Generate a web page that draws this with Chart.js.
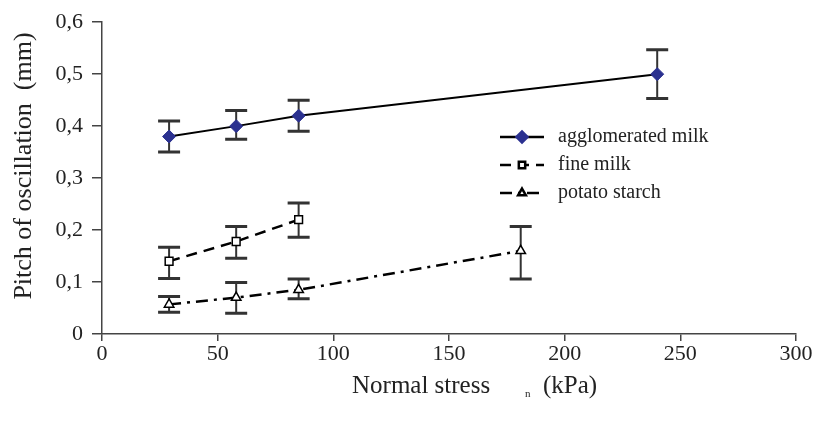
<!DOCTYPE html>
<html>
<head>
<meta charset="utf-8">
<script src="https://cdn.jsdelivr.net/npm/chart.js@4"></script>
<style>
  html, body { margin:0; padding:0; background:#fff; }
  #wrap { width:822px; height:421px; }
</style>
</head>
<body>
<div id="wrap"><canvas id="c" width="822" height="421"></canvas></div>
<script>
// values
const seriesNames = ['agglomerated milk', 'fine milk', 'potato starch']

const aggX  = [29, 58, 85, 240]
const aggY  = [0.38, 0.40, 0.42, 0.50]
const aggHi = [0.41, 0.43, 0.45, 0.547]
const aggLo = [0.35, 0.375, 0.39, 0.453]

const fineX  = [29, 58, 85]
const fineY  = [0.14, 0.178, 0.22]
const fineHi = [0.167, 0.207, 0.252]
const fineLo = [0.107, 0.146, 0.186]

const potX  = [29, 58, 85, 181]
const potY  = [0.057, 0.07, 0.085, 0.16]
const potHi = [0.072, 0.099, 0.106, 0.207]
const potLo = [0.042, 0.04, 0.068, 0.106]

const xTicks = [0, 50, 100, 150, 200, 250, 300]
const yTicks = [0, 0.1, 0.2, 0.3, 0.4, 0.5, 0.6]

const FONT = 'Liberation Serif'
const pts = (xs, ys) => xs.map((x, i) => ({ x: x, y: ys[i] }))

// error bars under the markers, then legend and axis titles on top
const errorBars = {
    id: 'errorBars',
    beforeDatasetsDraw(chart) {
        const ctx = chart.ctx
        const xs = chart.scales.x, ys = chart.scales.y
        ctx.save()
        ctx.strokeStyle = '#333'
        chart.data.datasets.forEach(ds => {
            ds.data.forEach((p, i) => {
                const px = xs.getPixelForValue(p.x)
                const top = ys.getPixelForValue(ds.errHi[i])
                const bot = ys.getPixelForValue(ds.errLo[i])
                ctx.lineWidth = 2
                ctx.beginPath()
                ctx.moveTo(px, top); ctx.lineTo(px, bot)
                ctx.stroke()
                ctx.lineWidth = 3
                ctx.beginPath()
                ctx.moveTo(px - 11, top); ctx.lineTo(px + 11, top)
                ctx.moveTo(px - 11, bot); ctx.lineTo(px + 11, bot)
                ctx.stroke()
            })
        })
        ctx.restore()
    },
    afterDraw(chart) {
        const ctx = chart.ctx
        ctx.save()
        // legend
        ctx.font = '20px "' + FONT + '"'
        ctx.textBaseline = 'middle'
        chart.data.datasets.forEach((ds, i) => {
            const y = 137 + i * 28
            ctx.strokeStyle = '#000'
            ctx.lineWidth = 2.5
            ctx.setLineDash(ds.borderDash || [])
            ctx.beginPath()
            ctx.moveTo(500, y); ctx.lineTo(544, y)
            ctx.stroke()
            ctx.setLineDash([])
            ctx.fillStyle = ds.pointBackgroundColor
            ctx.strokeStyle = ds.pointBorderColor
            Chart.helpers.drawPoint(ctx, {
                pointStyle: ds.pointStyle,
                radius: ds.pointRadius - 1,
                rotation: 0,
                borderWidth: 1.2
            }, 522, y)
            ctx.fillStyle = '#222'
            ctx.textAlign = 'left'
            ctx.fillText(ds.label, 558, y)
        })
        // axis titles
        ctx.fillStyle = '#222'
        ctx.font = '25px "' + FONT + '"'
        ctx.textAlign = 'left'
        ctx.fillText('Normal stress', 352, 386)
        ctx.fillText('(kPa)', 543, 386)
        ctx.font = '11px "' + FONT + '"'
        ctx.fillText('n', 525, 394)
        ctx.font = '26px "' + FONT + '"'
        ctx.translate(24, 166)
        ctx.rotate(-Math.PI / 2)
        ctx.textAlign = 'center'
        ctx.fillText('Pitch of oscillation  (mm)', 0, 0)
        ctx.restore()
    }
}

const ctx = document.getElementById('c').getContext('2d')
new Chart(ctx, {
    type: 'scatter',
    data: {
        datasets: [
            {
                label: seriesNames[0], data: pts(aggX, aggY), errHi: aggHi, errLo: aggLo,
                showLine: true, borderColor: '#000', borderWidth: 2,
                pointStyle: 'rectRot', pointRadius: 6.5,
                pointBackgroundColor: '#2b3190', pointBorderColor: '#2b3190', pointBorderWidth: 1
            },
            {
                label: seriesNames[1], data: pts(fineX, fineY), errHi: fineHi, errLo: fineLo,
                showLine: true, borderColor: '#000', borderWidth: 2.5, borderDash: [11, 7],
                pointStyle: 'rect', pointRadius: 5.5,
                pointBackgroundColor: '#fff', pointBorderColor: '#000', pointBorderWidth: 1.5
            },
            {
                label: seriesNames[2], data: pts(potX, potY), errHi: potHi, errLo: potLo,
                showLine: true, borderColor: '#000', borderWidth: 2.5, borderDash: [12, 6, 3, 6],
                pointStyle: 'triangle', pointRadius: 5.5,
                pointBackgroundColor: '#fff', pointBorderColor: '#000', pointBorderWidth: 1.5
            }
        ]
    },
    options: {
        responsive: false,
        animation: false,
        layout: { padding: { top: 16, right: 26, left: 0, bottom: 0 } },
        plugins: { legend: { display: false }, tooltip: { enabled: false } },
        scales: {
            x: {
                type: 'linear', min: 0, max: 300,
                afterBuildTicks: s => { s.ticks = xTicks.map(v => ({ value: v })) },
                afterFit: s => { s.height = 87 },
                grid: { display: true, drawOnChartArea: false, drawTicks: true, tickLength: 7, color: '#444', lineWidth: 1.5 },
                border: { display: true, color: '#444', width: 1.5 },
                ticks: { color: '#222', font: { family: FONT, size: 22 }, padding: 0 }
            },
            y: {
                min: 0, max: 0.6,
                afterBuildTicks: s => { s.ticks = yTicks.map(v => ({ value: v })) },
                afterFit: s => { s.width = 102 },
                grid: { display: true, drawOnChartArea: false, drawTicks: true, tickLength: 10, color: '#444', lineWidth: 1.5 },
                border: { display: true, color: '#444', width: 1.5 },
                ticks: {
                    color: '#222', font: { family: FONT, size: 22 }, padding: 9,
                    callback: v => v === 0 ? '0' : v.toFixed(1).replace('.', ',')
                }
            }
        }
    },
    plugins: [errorBars]
})
</script>
</body>
</html>
